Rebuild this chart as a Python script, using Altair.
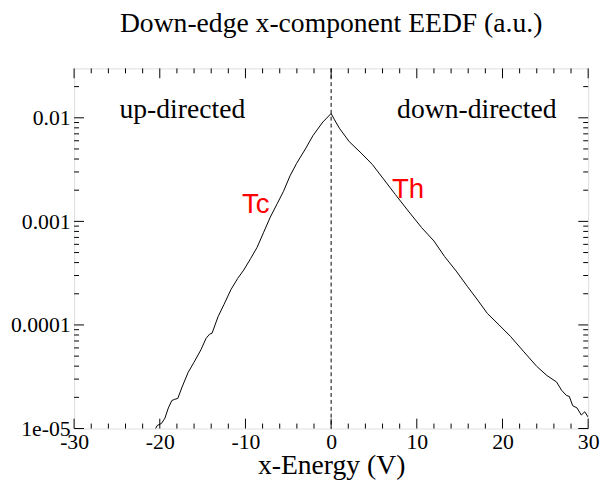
import altair as alt
import pandas as pd

# ---- data ----
energy = [-20.8, -20.3, -19.8, -19.4, -19.0, -18.6, -18.3, -17.9, -17.4, -16.7, -16.0,
          -15.2, -14.6, -14.2, -13.9, -13.2, -12.5, -11.7, -10.9, -10.2, -9.4, -8.64,
          -7.9, -7.1, -6.3, -5.56, -4.8, -4.03, -3.0, -2.11, -0.96, 0.0,
          0.4, 0.96, 2.11, 3.5, 4.8, 6.2, 7.49, 9.0, 10.56, 12.0, 13.25, 14.6, 15.93,
          17.1, 18.24, 19.6, 20.93, 22.5, 24.0, 25.2, 26.3, 26.9, 27.45, 27.8, 28.2,
          28.7, 29.2, 29.6, 30.0]
eedf = [8.9e-6, 1.07e-5, 1.12e-5, 1.26e-5, 1.58e-5, 1.86e-5, 1.91e-5, 1.95e-5, 2.51e-5,
        3.47e-5, 4.37e-5, 5.75e-5, 7.41e-5, 8.13e-5, 8.32e-5, 1.20e-4, 1.58e-4, 2.19e-4,
        2.82e-4, 3.39e-4, 4.37e-4, 5.62e-4, 7.76e-4, 1.10e-3, 1.48e-3, 1.95e-3, 2.75e-3,
        3.63e-3, 5.01e-3, 6.76e-3, 9.12e-3, 1.10e-2,
        9.55e-3, 7.94e-3, 5.89e-3, 4.57e-3, 3.55e-3, 2.51e-3, 1.82e-3, 1.26e-3, 8.71e-4,
        6.46e-4, 4.57e-4, 3.31e-4, 2.34e-4, 1.74e-4, 1.29e-4, 1.00e-4, 7.76e-5, 5.50e-5,
        3.98e-5, 3.24e-5, 2.82e-5, 2.34e-5, 2.09e-5, 2.04e-5, 1.66e-5, 1.58e-5, 1.35e-5,
        1.45e-5, 1.29e-5]

x_major = [-30, -20, -10, 0, 10, 20, 30]
x_minor = [-28, -26, -24, -22, -18, -16, -14, -12, -8, -6, -4, -2,
           2, 4, 6, 8, 12, 14, 16, 18, 22, 24, 26, 28]
y_major = [1e-5, 1e-4, 1e-3, 1e-2]
y_major_labels = ["1e-05", "0.0001", "0.001", "0.01"]
y_minor = [m * d for d in [1e-5, 1e-4, 1e-3] for m in range(2, 10)] + [0.02]

notes_text = ["up-directed", "down-directed"]
notes_x = [-24.7, 7.7]
notes_y = [0.0100, 0.0100]
labels_text = ["Tc", "Th"]
labels_x = [-10.4, 7.1]
labels_y = [0.00120, 0.00168]

W, H = 521, 365
SERIF = "Liberation Serif"
SANS = "Liberation Sans"

xs = alt.Scale(domain=[-30, 30], nice=False, zero=False)
ys = alt.Scale(type="log", domain=[1e-5, 0.03], nice=False)

curve_df = pd.DataFrame({"x": energy, "y": eedf})

label_expr = " : ".join(
    f"abs(datum.value - {v}) < {v * 0.01} ? '{t}'" for v, t in zip(y_major, y_major_labels)
) + " : ''"

base_axes = (
    alt.Chart(curve_df)
    .mark_line(color="black", strokeWidth=1, clip=True)
    .encode(
        x=alt.X("x:Q", scale=xs,
                axis=alt.Axis(values=x_major, ticks=False, domain=False, grid=False,
                              labelExpr="'' + datum.value",
                              labelFont=SERIF, labelFontSize=22, labelColor="black",
                              labelPadding=3, labelFlush=False, labelOverlap=False,
                              title="x-Energy (V)", titleFont=SERIF, titleFontSize=28,
                              titleFontWeight="normal", titleColor="black",
                              titlePadding=0)),
        y=alt.Y("y:Q", scale=ys,
                axis=alt.Axis(values=y_major, ticks=False, domain=False, grid=False,
                              labelExpr=label_expr, labelFont=SERIF, labelFontSize=22,
                              labelColor="black", labelPadding=4, labelFlush=False,
                              labelOverlap=False, title=None)),
    )
)

def xticks(vals, size):
    df = pd.DataFrame({"x": vals})
    bot = alt.Chart(df).mark_rule(color="black", strokeWidth=1).encode(
        x=alt.X("x:Q", scale=xs), y=alt.value(H), y2=alt.value(H - size))
    top = alt.Chart(df).mark_rule(color="black", strokeWidth=1).encode(
        x=alt.X("x:Q", scale=xs), y=alt.value(0), y2=alt.value(size))
    return [bot, top]

def yticks(vals, size):
    df = pd.DataFrame({"y": vals})
    left = alt.Chart(df).mark_rule(color="black", strokeWidth=1).encode(
        y=alt.Y("y:Q", scale=ys), x=alt.value(0), x2=alt.value(size))
    right = alt.Chart(df).mark_rule(color="black", strokeWidth=1).encode(
        y=alt.Y("y:Q", scale=ys), x=alt.value(W), x2=alt.value(W - size))
    return [left, right]

zero_line = alt.Chart(pd.DataFrame({"x": [0]})).mark_rule(
    color="black", strokeWidth=1, strokeDash=[4, 3]).encode(
    x=alt.X("x:Q", scale=xs), y=alt.value(0), y2=alt.value(H))

notes = alt.Chart(pd.DataFrame({"x": notes_x, "y": notes_y, "t": notes_text})).mark_text(
    align="left", baseline="alphabetic", font=SERIF, fontSize=28, color="black").encode(
    x=alt.X("x:Q", scale=xs), y=alt.Y("y:Q", scale=ys), text="t:N")

labels = alt.Chart(pd.DataFrame({"x": labels_x, "y": labels_y, "t": labels_text})).mark_text(
    align="left", baseline="alphabetic", font=SANS, fontSize=28, color="#ff0000").encode(
    x=alt.X("x:Q", scale=xs), y=alt.Y("y:Q", scale=ys), text="t:N")

layers = [base_axes, zero_line] + xticks(x_major, 10) + xticks(x_minor, 5) \
    + yticks(y_major, 10) + yticks(y_minor, 5) + [notes, labels]

chart = alt.layer(*layers).properties(
    width=W, height=H,
    title=alt.TitleParams("Down-edge x-component EEDF (a.u.)", font=SERIF, fontSize=28,
                          fontWeight="normal", color="black", anchor="middle",
                          baseline="alphabetic", offset=8),
    autosize=alt.AutoSizeParams(type="none"),
    padding={"left": 67, "top": 58, "right": 12, "bottom": 51},
).configure_view(stroke="black", strokeWidth=1.5).configure(background="white")

chart.save("out.html", embed_options={"renderer": "svg", "actions": False})
